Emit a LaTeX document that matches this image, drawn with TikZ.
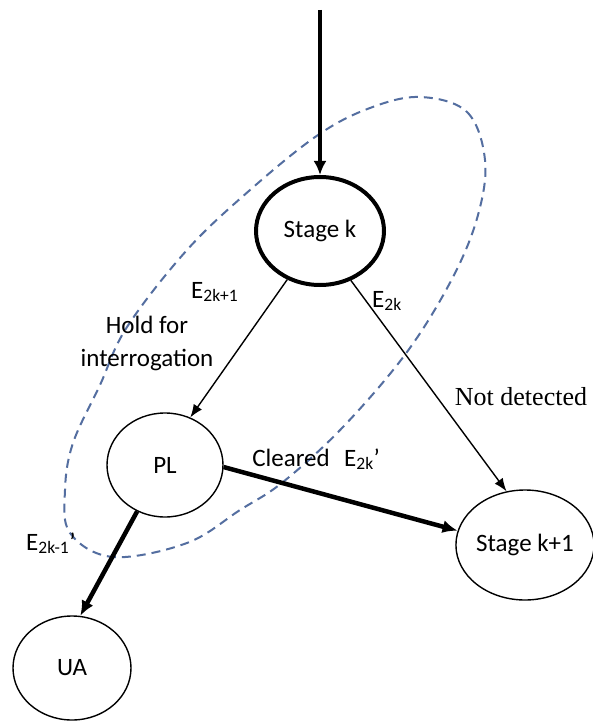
\documentclass[tikz,border=0pt]{standalone}
\usepackage{fontspec}
\setmainfont{Carlito}
\newfontfamily\serifnd{Liberation Serif}
\usetikzlibrary{shapes.geometric,arrows.meta}
\definecolor{dashblue}{RGB}{84,110,160}
\begin{document}
\begin{tikzpicture}[x=1pt,y=-1pt,
  lbl/.style={font=\fontsize{25}{33}\selectfont, inner sep=0pt},
  statenode/.style={ellipse, draw, line width=1.4pt, inner sep=0pt, font=\fontsize{25}{33}\selectfont},
  thinarrow/.style={line width=1.4pt, -{Latex[length=13pt,width=10pt]}},
  thickarrow/.style={line width=4.5pt, -{Latex[length=15pt,width=13pt]}},
  boundary/.style={dashblue, line width=2pt, dash pattern=on 9pt off 6pt}
]
\useasboundingbox (0,0) rectangle (593,722);
\fill[white] (0,0) rectangle (593,722);

% dashed boundary
\draw[boundary] plot[smooth cycle, tension=0.6] coordinates {
 (420,97) (467,112) (485,160) (478,215) (453,277) (407,352) (343,427)
 (283,482) (240,510) (187,543) (113,557) (70,533) (65,490) (73,443)
 (100,385) (127,327) (187,250) (250,190) (318,135) (370,108)};

% states
\node[statenode, line width=4pt, minimum width=128pt, minimum height=108pt] (stagek) at (320,231) {Stage k};
\node[statenode, minimum width=116pt, minimum height=104pt] (pl) at (165,465) {PL};
\node[statenode, minimum width=124pt, minimum height=110pt] (sk1) at (525,545) {Stage k+1};
\node[statenode, minimum width=118pt, minimum height=104pt] (ua) at (72,668) {UA};
\coordinate (entry) at (320,10);

% connectors
\draw[line width=4pt, -{Latex[length=14pt,width=13pt]}] (entry) -- (stagek.north);
\draw[thinarrow] (stagek.-124) -- (pl.62);
\draw[thinarrow] (stagek.-58) -- (sk1.109);
\draw[thickarrow] (pl.-2) -- (sk1.168);
\draw[thickarrow] (pl.-121) -- (ua.81);

% labels
\node[lbl, anchor=base west] (le2k1) at (191,298) {E\textsubscript{2k+1}};
\node[lbl, anchor=base west] (le2k) at (372,307) {E\textsubscript{2k}};
\node[lbl, align=center] (lhold) at (147,343) {Hold for\\interrogation};
\node[lbl, font=\serifnd\fontsize{26}{30}\selectfont] (lnot) at (521,397) {Not detected};
\node[lbl] (lclear) at (291,458) {Cleared};
\node[lbl, anchor=base west] (le2kp) at (344,466) {E\textsubscript{2k}’};
\node[lbl, anchor=base west] (le2km) at (26,550) {E\textsubscript{2k-1}’};
\end{tikzpicture}
\end{document}
